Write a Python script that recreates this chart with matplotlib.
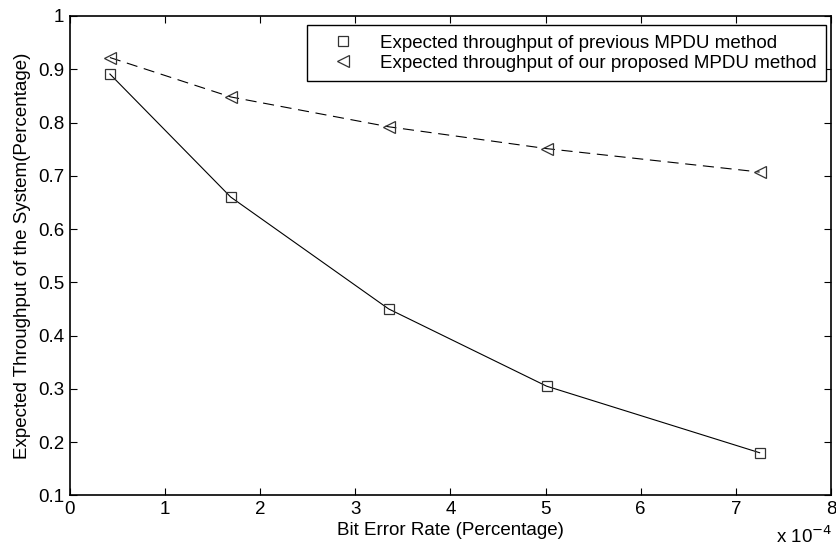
import matplotlib.pyplot as plt
from matplotlib.lines import Line2D

plt.rcParams['font.family'] = ['Liberation Sans', 'DejaVu Sans']

# bit error rate, in units of 1e-4
ber = [0.42, 1.69, 3.35, 5.01, 7.25]
previous = [0.891, 0.660, 0.450, 0.305, 0.180]
proposed = [0.922, 0.848, 0.792, 0.751, 0.707]

label_prev = 'Expected throughput of previous MPDU method'
label_prop = 'Expected throughput of our proposed MPDU method'

fs = 13.5

fig = plt.figure(figsize=(8.36, 5.51), dpi=100)
ax = fig.add_axes([0.0837, 0.101, 0.9103, 0.870])

ax.plot(ber, previous, color='black', lw=0.8, marker='s', ms=6.7,
        mfc='none', mec='#333333', mew=0.9)
ax.plot(ber, proposed, color='black', lw=0.8, ls=(0, (10, 6)), marker='<',
        ms=9, mfc='none', mec='#333333', mew=0.9)

ax.set_xlim(0, 8)
ax.set_ylim(0.1, 1)
ax.set_xticks(range(0, 9))
ax.set_yticks([0.1, 0.2, 0.3, 0.4, 0.5, 0.6, 0.7, 0.8, 0.9, 1.0])
ax.set_yticklabels(['0.1', '0.2', '0.3', '0.4', '0.5', '0.6', '0.7', '0.8', '0.9', '1'])
ax.tick_params(direction='in', length=5, width=0.8, labelsize=fs,
               top=True, right=True, pad=4)
for s in ax.spines.values():
    s.set_linewidth(1.2)

ax.set_xlabel('Bit Error Rate (Percentage)', fontsize=fs, labelpad=3)
ax.set_ylabel('Expected Throughput of the System(Percentage)', fontsize=fs, labelpad=5)
fig.text(0.995, 0.008, r'x 10$^{-4}$', fontsize=fs, ha='right', va='bottom')

handles = [
    Line2D([], [], ls='none', marker='s', ms=6.7, mfc='none', mec='#333333', mew=0.9),
    Line2D([], [], ls='none', marker='<', ms=9, mfc='none', mec='#333333', mew=0.9),
]
leg = ax.legend(handles, [label_prev, label_prop], loc='upper right',
                bbox_to_anchor=(0.9934, 0.981), fontsize=fs, frameon=True,
                fancybox=False, edgecolor='black', framealpha=1,
                handlelength=2.9, handletextpad=0.5, borderpad=0.5,
                labelspacing=0.15, borderaxespad=0)
leg.get_frame().set_linewidth(1.0)

fig.savefig('out.png', dpi=100)
